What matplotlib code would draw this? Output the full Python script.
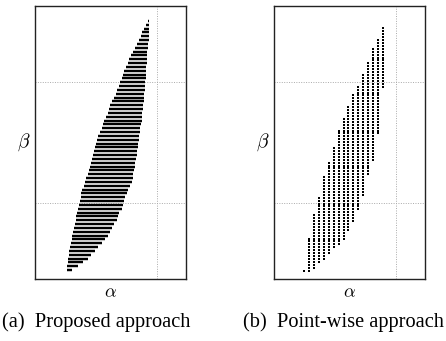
import numpy as np
import matplotlib
matplotlib.use("Agg")
import matplotlib.pyplot as plt

plt.rcParams['mathtext.fontset'] = 'cm'

# (a) proposed approach: one horizontal segment per beta level, top to bottom
n_bars = 66
bar_left = [112.7, 111.3, 109.3, 107.3, 105.7, 104.0, 102.0, 100.3, 98.0, 96.0,
            94.0, 92.7, 91.0, 89.3, 88.0, 86.7, 85.3, 84.0, 82.3, 81.0,
            79.3, 77.3, 75.0, 74.0, 72.7, 71.0, 69.3, 67.7, 66.7, 65.0,
            63.3, 62.3, 61.3, 60.0, 59.0, 58.0, 57.0, 56.0, 55.0, 53.7,
            52.7, 51.3, 50.0, 48.7, 47.3, 46.3, 45.7, 45.0, 44.0, 43.3,
            42.3, 41.3, 40.7, 40.0, 39.0, 38.3, 37.3, 36.7, 36.0, 35.0,
            34.3, 33.7, 33.3, 32.7, 32.3, 31.7]
bar_right = [114.3, 114.3, 114.3, 113.7, 113.7, 113.7, 113.0, 113.0, 112.3, 112.3,
             112.0, 112.0, 111.3, 111.3, 110.7, 110.7, 110.3, 110.0, 109.7, 109.3,
             109.3, 108.7, 108.3, 108.0, 107.3, 107.0, 106.7, 106.0, 105.3, 105.0,
             104.3, 104.0, 103.3, 102.7, 102.0, 101.7, 101.0, 100.3, 99.7, 99.0,
             98.3, 97.7, 96.7, 95.0, 93.3, 91.7, 90.0, 89.0, 88.3, 86.7,
             84.3, 82.7, 81.7, 79.3, 77.3, 75.0, 72.7, 70.0, 66.7, 63.3,
             60.0, 56.0, 52.7, 48.0, 42.7, 36.7]
bar_beta = np.linspace(258, 9, n_bars)

# (b) point-wise approach: grid columns, each with first/last filled row
col_alpha = np.linspace(30.3, 108.7, 17)
row_beta = np.linspace(8.3, 250.7, 84)
col_lo = [0, 0, 1, 3, 4, 6, 8, 9, 11, 14, 17, 21, 26, 33, 38, 47, 63]
col_hi = [0, 11, 19, 25, 32, 37, 42, 48, 52, 56, 60, 63, 67, 71, 76, 79, 83]

grid_alpha = 121.5
grid_beta = [76, 197]

fig = plt.figure(figsize=(4.46, 3.41), dpi=100)
ax1 = fig.add_axes([35 / 446, 62 / 341, 151 / 446, 273 / 341])
ax2 = fig.add_axes([274 / 446, 62 / 341, 151 / 446, 273 / 341])


def setup(ax):
    ax.set_xlim(0, 151)
    ax.set_ylim(0, 273)
    ax.set_xticks([])
    ax.set_yticks([])
    for s in ax.spines.values():
        s.set_linewidth(1.0)
        s.set_color('#222222')
    ax.axvline(grid_alpha, color='#aaaaaa', lw=0.7, ls=(0, (1, 1.5)), zorder=0)
    for b in grid_beta:
        ax.axhline(b, color='#aaaaaa', lw=0.7, ls=(0, (1, 1.5)), zorder=0)
    ax.set_xlabel(r'$\alpha$', fontsize=13, labelpad=3)
    ax.set_ylabel(r'$\beta$', fontsize=14, rotation=0, labelpad=8, va='center')


setup(ax1)
setup(ax2)

ax1.hlines(bar_beta, bar_left, bar_right, colors='black', lw=1.75, capstyle='butt')

px, py = [], []
for a, lo, hi in zip(col_alpha, col_lo, col_hi):
    for r in range(lo, hi + 1):
        px.append(a)
        py.append(row_beta[r])
ax2.scatter(px, py, s=1.7, c='black', marker='s', linewidths=0)

fig.text(96.5 / 446, 1 - 322 / 341, '(a)  Proposed approach', ha='center', va='center',
         fontsize=14.7, family='Liberation Serif')
fig.text(343 / 446, 1 - 322 / 341, '(b)  Point-wise approach', ha='center', va='center',
         fontsize=14.7, family='Liberation Serif')

fig.savefig('out.png', dpi=100)
